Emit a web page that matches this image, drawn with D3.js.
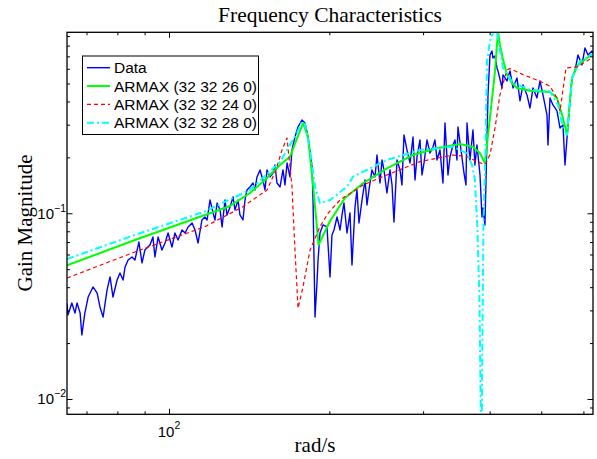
<!DOCTYPE html>
<html>
<head>
<meta charset="utf-8">
<script src="https://d3js.org/d3.v7.min.js"></script>
<style>
  body { margin: 0; background: #fff; }
  svg { display: block; }
</style>
</head>
<body>
<svg width="597" height="459"></svg>
<script>
// measured data (rad/s, gain)
var dataFreq = [64.34,64.6,65.7,66.6,67.2,68.1,68.6,69.5,70.5,72.0,
  73.3,74.2,75.2,76.5,77.5,78.5,79.9,80.9,82.0,82.7,
  83.8,85.2,86.3,87.8,89.0,90.1,92.1,93.3,94.1,95.4,
  97.0,98.3,99.6,101.3,102.6,104.0,105.8,107.2,108.6,110.5,
  111.9,113.4,115.3,116.8,117.9,119.4,121.0,122.0,123.1,124.7,
  125.8,127.4,128.5,130.2,131.9,133.0,134.8,135.9,137.7,138.9,
  140.1,141.9,143.8,145.0,146.3,148.2,150.1,151.4,152.8,154.8,
  156.8,158.1,159.5,161.6,163.7,165.1,166.6,168.7,170.2,172.4,
  174.7,177.7,180.0,182.4,185.6,186.4,188.0,189.6,190.5,192.1,
  194.6,198.0,200.6,202.3,204.1,206.8,209.5,211.3,213.1,215.9,
  218.7,220.6,223.5,225.4,227.4,230.4,233.4,235.4,237.4,240.5,
  243.7,245.8,249.0,251.2,253.3,256.6,260.0,262.3,264.5,268.0,
  271.5,273.8,276.2,279.8,283.5,287.2,289.7,292.2,296.0,298.6,
  301.2,305.1,309.1,313.1,315.8,318.6,322.7,326.9,329.8,334.1,
  337.0,341.4,344.4,347.3,348.8,353.4,358.0,361.1,362.7,367.4,
  372.2,375.4,378.7,383.7,387.0,388.7,392.0,397.2,400.6,404.1,
  405.8,409.4,412.9,414.7,422.0,423.8,431.2,436.8,442.5,450.2,
  456.1,462.1,470.1,476.3,482.5,490.9,497.3,503.8,512.6,514.8,
  519.3,526.0,535.2,542.2,549.3,554.1,558.9,566.2,571.1,578.5,
  586.1,596.3,604.1,612.0,622.7,625.4];
var dataGain = [.0325,.0283,.0329,.0290,.0329,.0290,.0221,.0290,.0354,.0401,
  .0372,.0313,.0276,.0386,.0454,.0354,.0437,.0477,.0437,.0514,
  .0560,.0582,.0560,.0700,.0540,.0634,.0675,.0745,.0582,.0745,
  .0634,.0692,.0783,.0658,.0783,.0718,.0813,.0783,.0844,.0887,
  .0813,.0692,.0920,.0955,.0920,.1179,.1004,.0920,.1136,.1042,
  .0844,.1179,.0979,.1081,.1224,.1042,.1179,.0979,.0920,.1179,
  .1335,.1386,.1456,.1335,.1569,.1711,.1511,.1335,.1711,.1569,
  .1648,.182,.1456,.1386,.1711,.142,.1866,.1569,.2192,.2576,
  .2916,.3180,.3064,.2576,.1776,.1179,.0276,.0421,.0560,.0783,
  .0865,.0844,.0454,.0764,.0813,.0955,.0813,.0979,.1136,.0783,
  .1004,.0527,.1081,.1335,.0887,.1179,.1511,.1108,.1335,.1711,
  .1569,.2060,.1456,.1937,.1711,.1286,.1711,.142,.0898,.1937,
  .1711,.142,.2640,.2192,.1866,.2576,.1511,.2010,.2482,.1608,
  .1866,.2482,.2112,.2275,.2482,.1937,.2192,.1456,.3064,.1608,
  .2010,.2332,.2482,.1937,.2916,.2192,.1648,.142,.3064,.1937,
  .2809,.182,.2332,.1608,.0955,.1068,.0865,.4336,.712,.748,
  .686,.703,.606,.584,.473,.556,.516,.584,.473,.535,
  .403,.491,.434,.369,.473,.418,.516,.434,.338,.2332,
  .418,.383,.356,.288,.299,.182,.2544,.403,.535,.584,
  .712,.629,.777,.712,.748,.73];

// ARMAX (32 32 26 0)
var armax26Freq = [64.34,86.3,116.8,130.2,141.9,151.4,161.6,168.7,178.5,182.4,
  186.4,190.9,200.6,214.0,231.4,256.6,287.2,318.6,351.9,372.2,
  383.7,392.0,409.4,414.7,418.3,423.8,431.2,440.6,450.2,476.3,
  519.3,535.2,546.9,558.9,571.1,583.6,609.3,625.4];
var armax26Gain = [.0524,.0718,.0979,.1095,.1286,.1511,.182,.2017,.3053,.2576,
  .142,.0675,.0909,.1209,.1451,.1747,.206,.2239,.2362,.2284,
  .2104,.1859,.5818,.959,.806,.672,.558,.503,.473,.457,
  .450,.418,.340,.265,.535,.619,.686,.721];

// ARMAX (32 32 24 0)
var armax24Freq = [64.34,86.3,116.8,137.7,152.8,158.8,163.0,166.6,170.2,172.4,
  174.7,178.5,184.0,192.1,198.9,209.5,231.4,256.6,296.0,341.4,
  362.7,378.7,392.0,400.6,409.4,418.3,431.2,436.8,462.1,497.3,
  519.3,535.2,542.2,556.5,583.6,609.3,625.4];
var armax24Gain = [.0448,.0619,.0847,.1085,.1335,.1711,.2192,.2544,.1391,.0634,
  .0308,.0402,.0634,.0847,.1,.1179,.142,.1608,.1896,.206,
  .2017,.1896,.1827,.2068,.288,.435,.593,.601,.558,.514,
  .483,.418,.354,.606,.614,.661,.695];

// ARMAX (32 32 28 0)
var armax28Freq = [64.34,86.3,116.8,141.9,161.6,173.9,177.7,180.0,184.0,188.0,
  192.1,200.6,215.9,221.6,256.6,296.0,341.4,362.7,370.6,375.4,
  379.5,382.8,386.2,387.8,389.5,392.9,395.5,400.6,405.8,410.3,
  416.5,423.8,442.5,476.3,519.3,537.5,549.3,558.9,571.1,591.2,625.4];
var armax28Gain = [.0567,.0764,.1023,.1335,.1889,.2707,.3102,.3026,.2192,.1391,
  .1132,.1179,.1391,.1574,.1937,.2192,.2284,.2104,.182,.1511,
  .0813,.0341,.004,.0235,.0887,.2192,.661,.844,.935,1.1,
  .806,.606,.503,.463,.454,.384,.288,.265,.535,.659,.715];

var legendLabels = ['Data', 'ARMAX (32 32 26 0)', 'ARMAX (32 32 24 0)', 'ARMAX (32 32 28 0)'];

var xMajor = [100], xMajorExp = ['2'];
var xMinor = [70, 80, 90, 200, 300, 400, 500, 600];
var yMajor = [0.01, 0.1], yMajorExp = ['\u22122', '\u22121'];
var yMinor = [0.009, 0.02, 0.03, 0.04, 0.05, 0.06, 0.07, 0.08, 0.09,
  0.2, 0.3, 0.4, 0.5, 0.6, 0.7, 0.8, 0.9];

var svg = d3.select('svg');

var axL = 67, axR = 593, axT = 32.3, axB = 414.3;

var x = d3.scaleLog().domain([64.34, 625.4]).range([axL, axR]);
var y = d3.scaleLog().domain([0.00827, 0.943]).range([axB, axT]);

svg.append('clipPath').attr('id', 'plotclip')
  .append('rect')
  .attr('x', axL).attr('y', axT)
  .attr('width', axR - axL).attr('height', axB - axT);

var series = [
  {f: dataFreq, g: dataGain, color: '#0000ff', width: 1.4, dash: null},
  {f: armax26Freq, g: armax26Gain, color: '#00ff00', width: 2, dash: null},
  {f: armax24Freq, g: armax24Gain, color: '#ff0000', width: 1.2, dash: '4,3'},
  {f: armax28Freq, g: armax28Gain, color: '#00ffff', width: 2, dash: '7,3,2,3'}
];

var line = d3.line()
  .x(function(d) { return x(d[0]); })
  .y(function(d) { return y(d[1]); });

var plot = svg.append('g').attr('clip-path', 'url(#plotclip)');

series.forEach(function(s) {
  plot.append('path')
    .datum(d3.zip(s.f, s.g))
    .attr('d', line)
    .attr('fill', 'none')
    .attr('stroke', s.color)
    .attr('stroke-width', s.width)
    .attr('stroke-dasharray', s.dash)
    .attr('stroke-linejoin', 'round');
});

// ticks on all four sides, pointing in
function addAxis(axis, tx, ty) {
  var g = svg.append('g')
    .attr('transform', 'translate(' + tx + ',' + ty + ')')
    .call(axis);
  g.select('.domain').remove();
  g.selectAll('text').remove();
  g.selectAll('line').attr('stroke', '#000').attr('stroke-width', 1);
}
var maj = -5.5, mnr = -3;
addAxis(d3.axisBottom(x).tickValues(xMajor).tickSize(maj).tickFormat(''), 0, axB);
addAxis(d3.axisBottom(x).tickValues(xMinor).tickSize(mnr).tickFormat(''), 0, axB);
addAxis(d3.axisTop(x).tickValues(xMajor).tickSize(maj).tickFormat(''), 0, axT);
addAxis(d3.axisTop(x).tickValues(xMinor).tickSize(mnr).tickFormat(''), 0, axT);
addAxis(d3.axisLeft(y).tickValues(yMajor).tickSize(maj).tickFormat(''), axL, 0);
addAxis(d3.axisLeft(y).tickValues(yMinor).tickSize(mnr).tickFormat(''), axL, 0);
addAxis(d3.axisRight(y).tickValues(yMajor).tickSize(maj).tickFormat(''), axR, 0);
addAxis(d3.axisRight(y).tickValues(yMinor).tickSize(mnr).tickFormat(''), axR, 0);

svg.append('rect')
  .attr('x', axL).attr('y', axT)
  .attr('width', axR - axL).attr('height', axB - axT)
  .attr('fill', 'none').attr('stroke', '#000').attr('stroke-width', 1.3);

// tick labels 10^n
var sans = '"Liberation Sans", Arial, Helvetica, sans-serif';
xMajor.forEach(function(v, i) {
  var t = svg.append('text')
    .attr('x', x(v)).attr('y', axB + 22.5)
    .attr('text-anchor', 'middle')
    .attr('font-family', sans).attr('font-size', 15);
  t.append('tspan').text('10');
  t.append('tspan').attr('dy', -8).attr('font-size', 10.5).text(xMajorExp[i]);
});
yMajor.forEach(function(v, i) {
  var t = svg.append('text')
    .attr('x', axL - 1).attr('y', y(v) + 5.5)
    .attr('text-anchor', 'end')
    .attr('font-family', sans).attr('font-size', 15);
  t.append('tspan').text('10');
  t.append('tspan').attr('dy', -7).attr('font-size', 10.5).text(yMajorExp[i]);
});

// title and axis labels
var serif = '"Liberation Serif", "Times New Roman", Times, serif';
svg.append('text')
  .attr('x', 330).attr('y', 22)
  .attr('text-anchor', 'middle')
  .attr('font-family', serif).attr('font-size', 21.5)
  .text('Frequency Characteristics');
svg.append('text')
  .attr('x', 315).attr('y', 452)
  .attr('text-anchor', 'middle')
  .attr('font-family', serif).attr('font-size', 21)
  .text('rad/s');
svg.append('text')
  .attr('transform', 'translate(32,223) rotate(-90)')
  .attr('text-anchor', 'middle')
  .attr('font-family', serif).attr('font-size', 21)
  .text('Gain Magnitude');

// legend
var lg = svg.append('g');
lg.append('rect')
  .attr('x', 82.5).attr('y', 56)
  .attr('width', 176).attr('height', 78.5)
  .attr('fill', '#fff').attr('stroke', '#000').attr('stroke-width', 1);
legendLabels.forEach(function(lab, i) {
  var s = series[i];
  var ry = 67.7 + i * 18.35;
  lg.append('line')
    .attr('x1', 87).attr('x2', 110).attr('y1', ry).attr('y2', ry)
    .attr('stroke', s.color).attr('stroke-width', s.width)
    .attr('stroke-dasharray', s.dash);
  lg.append('text')
    .attr('x', 114).attr('y', ry + 5.5)
    .attr('font-family', sans).attr('font-size', 15.5)
    .text(lab);
});
</script>
</body>
</html>
